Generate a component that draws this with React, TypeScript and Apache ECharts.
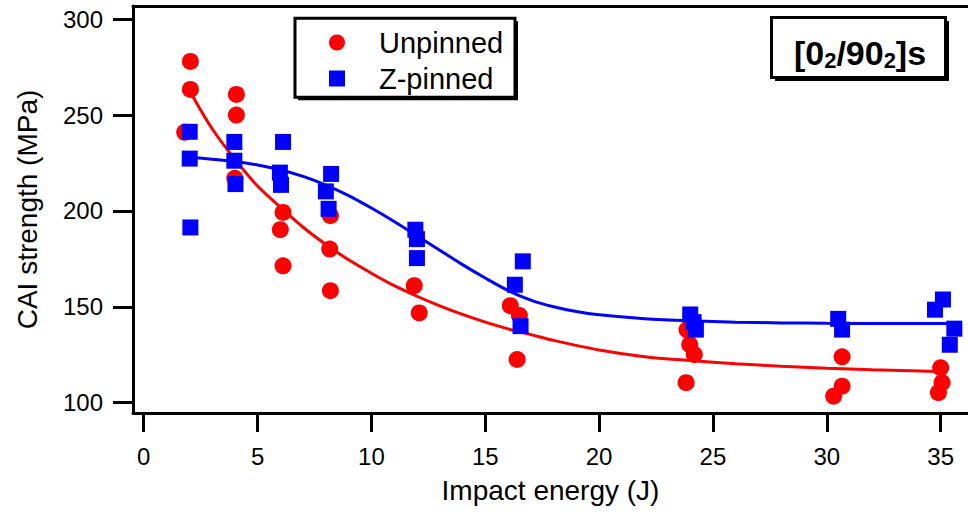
import React, { useEffect, useRef } from "react";
import * as echarts from "echarts";

const FONT = '"Liberation Sans", Arial, sans-serif';

const xTicks = [0, 5, 10, 15, 20, 25, 30, 35];
const yTicks = [100, 150, 200, 250, 300];

const unpinnedX = [2.05, 2.05, 1.8, 4.07, 4.07, 4.0, 6.12, 6.0, 6.12, 8.2, 8.17, 8.2, 11.88, 12.1, 16.1, 16.5, 16.4, 23.86, 23.98, 24.18, 23.82, 30.67, 30.67, 30.3, 35.0, 35.06, 34.9];
const unpinnedY = [278, 263.4, 241, 260.8, 250, 217, 199.2, 190.2, 171.4, 197.5, 180.1, 158.4, 161, 146.8, 150.6, 145.4, 122.5, 138, 130.3, 125.1, 110.4, 123.9, 108.6, 103.4, 118.2, 110.4, 105.2];

const zpinnedX = [2.02, 2.02, 2.05, 3.98, 3.98, 4.03, 6.12, 5.98, 6.03, 8.23, 8.0, 8.12, 11.93, 12.0, 12.0, 16.65, 16.3, 16.55, 24.0, 24.15, 24.25, 30.5, 30.67, 34.75, 35.1, 35.6, 35.4];
const zpinnedY = [241.3, 227.3, 191.4, 236, 226.2, 214, 236, 220, 213.6, 219.3, 210.2, 201.1, 190.2, 185.3, 175.4, 173.7, 161.5, 139.9, 146, 142, 138.1, 143.7, 138.1, 148.5, 153.8, 138.6, 130.2];

const unpinnedFitX = [2, 3, 4, 5, 6, 7, 8, 9, 10, 11, 12, 13, 14, 15, 16, 17, 18, 20, 22, 24, 26, 28, 30, 32, 34.9];
const unpinnedFitY = [263, 243, 227, 213, 202, 191.5, 182.5, 174.5, 167.5, 161, 155.5, 150.5, 146, 142, 138.5, 135.5, 132.5, 127.5, 124, 122, 120.3, 119, 118, 117.2, 116.3];

const zpinnedFitX = [2, 3, 4, 5, 6, 7, 8, 9, 10, 11, 12, 13, 14, 15, 16, 17, 18, 19, 20, 22, 24, 26, 28, 30, 32, 35.6];
const zpinnedFitY = [228, 227, 225.8, 224, 221.5, 218, 213.5, 208, 201.5, 194.5, 187, 179.5, 172, 165, 158.5, 153.5, 150, 147.5, 145.8, 143.8, 142.7, 142, 141.6, 141.4, 141.3, 141.3];

const zip = (xs: number[], ys: number[]) => xs.map((x, i) => [x, ys[i]]);

export default function App() {
  const ref = useRef<HTMLDivElement>(null);
  useEffect(() => {
    if (!ref.current) return;
    const chart = echarts.init(ref.current, undefined, { renderer: "svg" });
    const axisLine = { show: true, onZero: false, lineStyle: { color: "#000", width: 3 } };
    const option: any = {
      animation: false,
      backgroundColor: "#fff",
      grid: { left: 133, top: 6, right: 0, bottom: 104, containLabel: false },
      xAxis: [
        {
          type: "value",
          min: -0.47,
          max: 36.2,
          axisLine,
          axisTick: { show: true, inside: false, length: 19, lineStyle: { color: "#000", width: 3 }, customValues: xTicks },
          axisLabel: { customValues: xTicks, margin: 31, fontSize: 24, color: "#000", fontFamily: FONT },
          splitLine: { show: false },
          name: "Impact energy (J)",
          nameLocation: "middle",
          nameGap: 63,
          nameTextStyle: { fontSize: 28, color: "#000", fontFamily: FONT },
        },
        {
          type: "value",
          position: "top",
          min: -0.47,
          max: 36.2,
          axisLine,
          axisTick: { show: false },
          axisLabel: { show: false },
          splitLine: { show: false },
        },
      ],
      yAxis: {
        type: "value",
        min: 94.6,
        max: 306.9,
        axisLine,
        axisTick: { show: true, inside: false, length: 20, lineStyle: { color: "#000", width: 3 }, customValues: yTicks },
        axisLabel: { customValues: yTicks, margin: 30, fontSize: 24, color: "#000", fontFamily: FONT },
        splitLine: { show: false },
        name: "CAI strength (MPa)",
        nameLocation: "middle",
        nameGap: 92,
        nameTextStyle: { fontSize: 28, color: "#000", fontFamily: FONT },
      },
      legend: {
        data: ["Unpinned", "Z-pinned"],
        orient: "vertical",
        left: 329,
        top: 28,
        padding: 0,
        itemGap: 7,
        itemWidth: 16,
        itemHeight: 16,
        formatter: "{t|{name}}",
        textStyle: {
          fontSize: 28,
          color: "#000",
          fontFamily: FONT,
          rich: { t: { fontSize: 29, lineHeight: 30, color: "#000", fontFamily: FONT, padding: [0, 0, 0, 29] } },
        },
        z: 10,
      },
      graphic: [
        { type: "rect", z: 1, shape: { x: 298, y: 21.3, width: 220, height: 79 }, style: { fill: "#000" } },
        { type: "rect", z: 2, shape: { x: 295, y: 18.3, width: 220, height: 79 }, style: { fill: "#fff", stroke: "#000", lineWidth: 3 } },
        { type: "rect", z: 1, shape: { x: 775, y: 21, width: 174, height: 60 }, style: { fill: "#000" } },
        { type: "rect", z: 2, shape: { x: 771.5, y: 17.5, width: 174, height: 60 }, style: { fill: "#fff", stroke: "#000", lineWidth: 3 } },
        {
          type: "text",
          z: 3,
          x: 860,
          y: 53,
          style: {
            text: "{m|[0}{s|2}{m|/90}{s|2}{m|]s}",
            align: "center",
            verticalAlign: "middle",
            rich: {
              m: { fontSize: 34, fontWeight: "bold", lineHeight: 36, fill: "#000", fontFamily: FONT },
              s: { fontSize: 22, fontWeight: "bold", lineHeight: 16, verticalAlign: "bottom", fill: "#000", fontFamily: FONT },
            },
          },
        },
      ],
      series: [
        {
          name: "Unpinned fit",
          type: "line",
          data: zip(unpinnedFitX, unpinnedFitY),
          smooth: 0.3,
          showSymbol: false,
          symbol: "none",
          lineStyle: { color: "#ff0000", width: 3 },
          z: 2,
        },
        {
          name: "Z-pinned fit",
          type: "line",
          data: zip(zpinnedFitX, zpinnedFitY),
          smooth: 0.3,
          showSymbol: false,
          symbol: "none",
          lineStyle: { color: "#0000ff", width: 3 },
          z: 2,
        },
        {
          name: "Unpinned",
          type: "scatter",
          data: zip(unpinnedX, unpinnedY),
          symbol: "circle",
          symbolSize: 17,
          itemStyle: { color: "#ff0000", opacity: 1 },
          z: 3,
        },
        {
          name: "Z-pinned",
          type: "scatter",
          data: zip(zpinnedX, zpinnedY),
          symbol: "rect",
          symbolSize: 16,
          itemStyle: { color: "#0000ff", opacity: 1 },
          z: 4,
        },
      ],
    };
    chart.setOption(option);
    return () => chart.dispose();
  }, []);
  return <div ref={ref} style={{ position: "fixed", left: 0, top: 0, width: 968, height: 517 }} />;
}
